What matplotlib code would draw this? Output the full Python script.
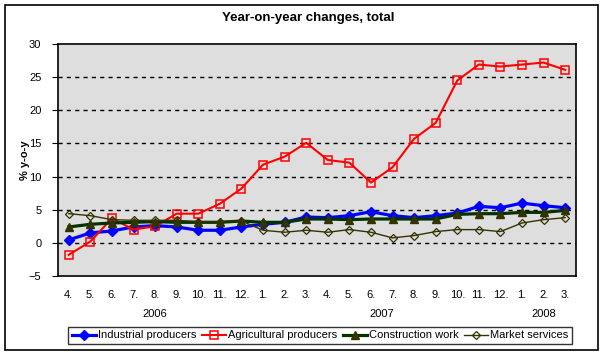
import matplotlib
matplotlib.use("Agg")
import matplotlib.pyplot as plt
from matplotlib.patches import Rectangle

plt.rcParams['font.family'] = ['Liberation Sans', 'DejaVu Sans']
plt.rcParams['font.size'] = 8

months = ['4.', '5.', '6.', '7.', '8.', '9.', '10.', '11.', '12.',
          '1.', '2.', '3.', '4.', '5.', '6.', '7.', '8.', '9.', '10.', '11.', '12.',
          '1.', '2.', '3.']
years = ['2006', '2007', '2008']
year_counts = [9, 12, 3]

industrial = [0.45, 1.5, 1.8, 2.4, 2.6, 2.4, 1.9, 1.9, 2.4, 2.8, 3.1, 3.9,
              3.8, 4.1, 4.7, 4.1, 3.8, 4.1, 4.5, 5.5, 5.3, 6.0, 5.6, 5.3]
agricultural = [-1.8, 0.2, 3.7, 2.0, 2.5, 4.4, 4.4, 5.9, 8.2, 11.8, 13.0, 15.1,
                12.5, 12.1, 9.1, 11.4, 15.7, 18.1, 24.5, 26.9, 26.6, 26.9, 27.2, 26.1]
construction = [2.4, 2.8, 3.0, 3.1, 3.2, 3.1, 3.1, 3.1, 3.3, 3.1, 3.1, 3.6,
                3.6, 3.5, 3.6, 3.6, 3.6, 3.6, 4.3, 4.4, 4.4, 4.6, 4.6, 4.9]
services = [4.4, 4.1, 3.5, 3.4, 3.4, 3.4, 3.2, 3.2, 3.3, 1.9, 1.6, 1.9,
            1.6, 2.0, 1.6, 0.75, 1.1, 1.7, 2.0, 2.0, 1.7, 3.0, 3.5, 3.8]

W, H = 604, 354
fig = plt.figure(figsize=(W / 100, H / 100), dpi=100)
ax = fig.add_axes([58 / W, 1 - 276 / H, (576 - 58) / W, (276 - 44) / H])
ax.set_facecolor('#DEDEDE')

x = list(range(len(months)))
ax.plot(x, industrial, color='#0000FF', lw=2.3, marker='D', ms=5,
        mfc='#0000FF', mec='#0000FF', label='Industrial producers')
ax.plot(x, agricultural, color='#FF0000', lw=1.5, marker='s', ms=5.5,
        mfc='none', mec='#FF0000', mew=1.1, label='Agricultural producers')
ax.plot(x, construction, color='#003300', lw=2.3, marker='^', ms=6,
        mfc='#333300', mec='#333300', label='Construction work')
ax.plot(x, services, color='#333300', lw=1.0, marker='D', ms=4,
        mfc='none', mec='#333300', mew=0.9, label='Market services')

ax.set_xlim(-0.5, len(months) - 0.5)
ax.set_ylim(-5, 30)
ax.set_yticks(range(-5, 31, 5))
for v in range(0, 30, 5):
    ax.axhline(v, color='black', lw=1, ls=(0, (3, 3)), zorder=0.5)
ax.set_xticks(x)
ax.set_xticklabels(months)
ax.tick_params(axis='x', length=0, pad=10)
ax.tick_params(axis='y', length=4, direction='out', pad=8)
for s in ax.spines.values():
    s.set_color('black')
    s.set_linewidth(1.2)

ax.set_ylabel('% y-o-y', fontweight='bold', labelpad=0)
ax.yaxis.set_label_coords(-0.055, 0.5)
fig.text(308 / W, 1 - 18 / H, 'Year-on-year changes, total',
         ha='center', va='center', fontweight='bold', fontsize=9.5)

# year group labels under the months
start = 0
for yr, n in zip(years, year_counts):
    xc = start + (n - 1) / 2
    ax.text(xc, -0.165, yr, transform=ax.get_xaxis_transform(),
            ha='center', va='center')
    start += n

leg = fig.legend(loc='center', bbox_to_anchor=(320 / W, 1 - 335.5 / H), ncol=4,
                 frameon=True, fancybox=False, shadow=False, fontsize=8,
                 handlelength=2.2, handletextpad=0.15, columnspacing=0.5,
                 borderpad=0.35, borderaxespad=0)
leg.get_frame().set_edgecolor('black')
leg.get_frame().set_linewidth(1.0)

fig.patches.append(Rectangle((5 / W, 1 - 350 / H), 593 / W, 345 / H,
                             transform=fig.transFigure, fill=False,
                             edgecolor='black', lw=1.2))

fig.savefig('out.png', dpi=100)
